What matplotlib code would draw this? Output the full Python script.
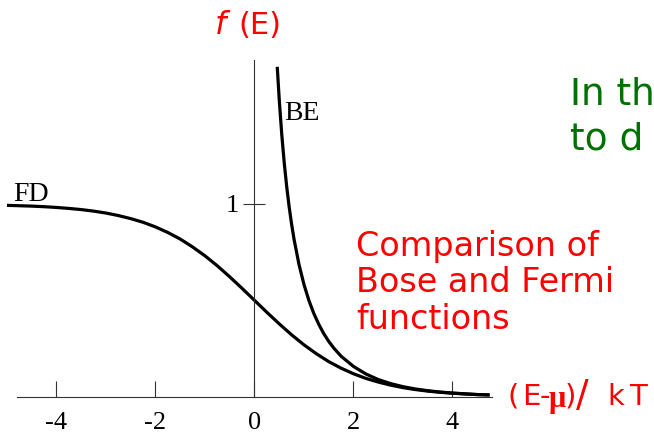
import matplotlib
matplotlib.use("Agg")
import matplotlib.pyplot as plt

# Fermi-Dirac curve
fd_x = [-5.0, -4.75, -4.5, -4.25, -4.0, -3.75, -3.5, -3.25, -3.0, -2.75, -2.5, -2.25,
        -2.0, -1.75, -1.5, -1.25, -1.0, -0.75, -0.5, -0.25, 0.0, 0.25, 0.5, 0.75,
        1.0, 1.25, 1.5, 1.75, 2.0, 2.25, 2.5, 2.75, 3.0, 3.25, 3.5, 3.75, 4.0, 4.25,
        4.5, 4.75]
fd_y = [0.993, 0.991, 0.989, 0.986, 0.982, 0.977, 0.971, 0.963, 0.953, 0.940, 0.924, 0.905,
        0.881, 0.852, 0.818, 0.777, 0.731, 0.679, 0.622, 0.562, 0.500, 0.438, 0.378, 0.321,
        0.269, 0.223, 0.182, 0.148, 0.119, 0.095, 0.076, 0.060, 0.047, 0.037, 0.029, 0.023,
        0.018, 0.014, 0.011, 0.009]

# Bose-Einstein curve
be_x = [0.46, 0.5, 0.55, 0.6, 0.65, 0.7, 0.75, 0.8, 0.9, 1.0, 1.1, 1.2, 1.3, 1.4, 1.5,
        1.6, 1.75, 2.0, 2.25, 2.5, 2.75, 3.0, 3.25, 3.5, 3.75, 4.0, 4.25, 4.5, 4.75]
be_y = [1.712, 1.542, 1.364, 1.216, 1.092, 0.986, 0.895, 0.816, 0.685, 0.582, 0.499, 0.431,
        0.375, 0.327, 0.287, 0.253, 0.210, 0.157, 0.118, 0.089, 0.068, 0.052, 0.040, 0.031,
        0.024, 0.019, 0.015, 0.011, 0.009]

x_ticks = [-4, -2, 0, 2, 4]
y_ticks = [1]

W, H = 654, 434
fig = plt.figure(figsize=(W / 100, H / 100), dpi=100)
ax = fig.add_axes([0, 0, 1, 1])
ax.set_xlim(-5.141, 8.071)
ax.set_ylim(-0.1936, 2.0586)
ax.patch.set_visible(False)

ax.plot(fd_x, fd_y, color="black", lw=2.3, solid_capstyle="butt")
ax.plot(be_x, be_y, color="black", lw=2.3, solid_capstyle="butt")

axis_col = "#333333"
for s in ["top", "right"]:
    ax.spines[s].set_visible(False)
ax.spines["bottom"].set_position(("data", 0))
ax.spines["left"].set_position(("data", 0))
ax.spines["bottom"].set_bounds(-4.8, 4.8)
ax.spines["left"].set_bounds(0, 1.747)
for s in ["bottom", "left"]:
    ax.spines[s].set_color(axis_col)
    ax.spines[s].set_linewidth(0.8)

serif = "Liberation Serif"
ax.set_xticks(x_ticks)
ax.set_xticklabels([str(t) for t in x_ticks], family=serif, fontsize=19)
ax.set_yticks(y_ticks)
ax.set_yticklabels(["1"], family=serif, fontsize=19)
ax.tick_params(axis="x", direction="in", length=11.5, width=0.8, color=axis_col, pad=11)
ax.tick_params(axis="y", direction="inout", length=16, width=0.8, color=axis_col, pad=3)

ax.text(-4.88, 1.016, "FD", family=serif, fontsize=20, va="baseline")
ax.text(0.61, 1.436, "BE", family=serif, fontsize=20, va="baseline")


def px(x, y):
    return x / W, 1 - y / H


red = "#ff0000"
fig.text(*px(215, 26), "f", color=red, fontsize=23, style="italic", va="center", ha="left")
fig.text(*px(238, 26), "(E)", color=red, fontsize=22, va="center", ha="left")

# axis label, placed piece by piece to follow the wide letter spacing
label_parts = ["(", "E", "-", ")", "k", "T"]
label_px = [508, 522, 540, 565, 607, 629]
for ch, xp in zip(label_parts, label_px):
    fig.text(*px(xp, 397), ch, color=red, fontsize=21, va="center", ha="left")
fig.text(*px(576, 396), "/", color=red, fontsize=27, va="center", ha="left")
fig.text(*px(549, 400), "\u03bc", color=red, fontsize=22, weight="bold",
         family=serif, va="center", ha="left")

fig.text(*px(356, 283), "Comparison of\nBose and Fermi\nfunctions", color=red, fontsize=24,
         va="center", ha="left", linespacing=1.12)

fig.text(*px(570, 117), "In th\nto d", color="#007000", fontsize=27,
         va="center", ha="left", linespacing=1.3)

fig.savefig("out.png", dpi=100)
